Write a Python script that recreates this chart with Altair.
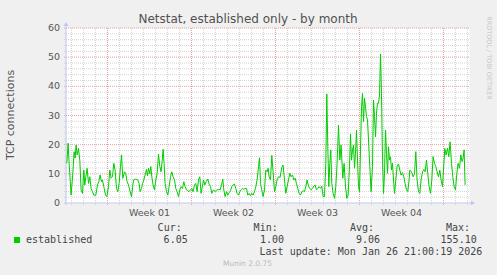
import altair as alt
import pandas as pd

# hours since start of the month window (Dec 24 13:00 -> Jan 26 21:00)
hours = [1.6, 4.2, 6.2, 10.2, 13.6, 16.2, 18.2, 20.2, 22.2, 25, 27.6, 30.2, 33, 35.6, 37.6, 39.6,
         42.2, 45, 47.6, 50.2, 53, 55.6, 59.6, 63, 65.6, 68.2, 71, 73, 75.6, 79, 81.6, 85, 87.6,
         90.2, 93, 95.6, 98.2, 101, 103.6, 106.2, 109, 111, 113.6, 117, 119.6, 122.2, 125, 128.2,
         131, 135, 139.6, 143.6, 146.2, 148.2, 151, 153, 155.6, 158.2, 161, 163, 165, 167.6, 169.6,
         171.6, 174.2, 177, 179.6, 182.2, 185, 187.6, 190.2, 192.2, 194.2, 196.2, 198.2, 201,
         203.6, 206.2, 209, 211.6, 214.2, 217, 219.6, 222.2, 225, 227.6, 230.2, 233, 235.6, 238.2,
         241, 243.6, 246.2, 249, 251.6, 254.2, 257, 259.6, 262.2, 265, 267.6, 270.2, 275, 277.6,
         280.2, 283.6, 286.2, 289, 291.6, 295, 298.2, 301.6, 305, 308.2, 311, 313.6, 315.6, 318.2,
         321, 323.6, 326.2, 329, 331.6, 334.2, 337, 339.6, 342.2, 345, 347.6, 350.2, 353, 355.6,
         358.2, 361, 363.6, 366.2, 369, 371.6, 374.2, 377, 379.6, 382.2, 385, 387, 389, 391.6,
         394.2, 397, 399.6, 402.2, 404.2, 406.2, 409, 411.6, 414.2, 417, 419.6, 422.2, 425, 428.2,
         431.6, 434.2, 437, 439.6, 442.2, 445, 447.6, 450.2, 453, 455.6, 458.2, 461, 463.6, 466.2,
         469, 471.6, 474.2, 477, 479.6, 482.2, 485, 487.6, 490.2, 493, 495.6, 498.2, 501, 503.6,
         506.2, 509, 511.6, 514.2, 517, 519.6, 521.6, 523.6, 525.6, 527.6, 529.6, 531.6, 534.2,
         537, 539.6, 542.2, 545, 547.6, 550.2, 553.6, 556.2, 559, 561.6, 564.2, 567, 569, 571,
         573, 575, 577, 579, 581, 583, 585, 587, 589, 591, 593, 595, 597, 599, 601, 603, 605,
         607.6, 610.2, 613, 615, 617, 619, 621, 623, 625, 627, 629, 631, 633, 635, 637, 639, 641,
         643, 645, 647, 649, 651, 653, 655, 657, 659.6, 662.2, 665, 667.6, 670.2, 673, 675.6,
         678.2, 681, 683.6, 686.2, 687.6, 691, 694.2, 697, 699.6, 702.2, 705, 707.6, 710.2, 713,
         715.6, 718.2, 721, 723.6, 726.2, 729, 731.6, 734.2, 737, 739.6, 742.2, 745, 747.6, 750.2,
         753, 755, 757.6, 760.2, 763, 765.6, 768.2, 771, 773.6, 776.2, 779, 781.6, 784.2, 787,
         789.6, 792.2, 794.2, 796.2, 798.2]
conns = [13.6, 20.5, 13.7, 2.7, 10, 17.6, 15.4, 19.9, 16.5, 18.7, 14.7, 4.5, 3.3, 11.3, 6.2, 9,
         11.9, 6.7, 9, 5, 3.9, 2.7, 2.7, 6.2, 7.3, 9.6, 7.3, 7.9, 5.6, 2.7, 2.2, 5.6, 11.3,
         8.5, 9, 13.6, 11.3, 5, 3.9, 6.7, 12.5, 16.5, 8.5, 10.7, 10, 7.3, 6.2, 3.9,
         2.2, 7.9, 8.2, 7.9, 6.7, 3.9, 5, 6.7, 7.9, 9.6, 11.5, 9.3, 11.9, 10, 12.5,
         9, 6.2, 4.5, 7.9, 10, 16.8, 12.5, 10.7, 14.2, 18.4, 13.6, 6.7, 3.9,
         2.7, 5.6, 9, 10.7, 9, 7.9, 5, 3.9, 2.2, 4.5, 5.6, 5, 7.3, 5.6,
         4.5, 4.2, 3.9, 4.5, 5, 3.9, 6.2, 6.7, 3.9, 7.9, 9, 3.3, 7.9, 6.2,
         7.3, 8.2, 6.5, 5.6, 3.3, 4.5, 3.9, 4.5, 4.7, 4.5, 6.2, 8.2, 4.5, 2.2,
         3.9, 2.7, 3.5, 4.2, 5.6, 6.2, 6.5, 5, 3.3, 2.7, 3.9, 4.5, 5, 4.7,
         5, 5, 2.7, 3.3, 2.5, 3.3, 2.7, 3.9, 5.6, 7.9, 12.5, 15.5, 6.7, 4.5,
         2.2, 4.5, 11.3, 10.7, 11.9, 9, 7.9, 16.3, 10.7, 3.9, 5.6, 7.9, 9, 8.8,
         12.2, 13, 7.9, 3.3, 5.6, 7.9, 10.2, 9, 9.6, 7.9, 8.5, 6.7, 5, 3.3,
         2.7, 3.9, 4.2, 3.9, 5.6, 7.9, 5.8, 5, 4.5, 5, 5.8, 6.2, 4.5, 5,
         5.6, 5, 5.8, 2.2, 2.2, 13.6, 37.4, 19.3, 5.6, 13.6, 18.2, 6.7, 3.3,
         1.6, 5.6, 13.6, 26.7, 14.7, 19.9, 8.5, 13.6, 5.6, 1.6, 2.7, 12.5, 23.7, 14.7,
         18.2, 19.9, 11.9, 17.1, 25, 14.7, 5.6, 3.9, 18.2, 33, 37.6, 27.9, 35.9, 33, 29.6, 28.5, 21.6,
         12.5, 3.9, 12.5, 35.3, 29.6, 22.7, 30.8, 34.2, 34.2, 37, 51.1, 37.6, 14.7, 3.3, 10.2, 25, 17,
         10.2, 19.3, 14.7, 15.8, 11.3, 13.6, 7.9, 3.3, 7.9, 12.5, 13.4, 11.3, 9.6, 10.4, 9,
         6.7, 4.5, 3.9, 7.9, 11.3, 10.7, 9, 10, 17.6, 7.9, 3.9, 3.3, 7.9, 10.7,
         11.5, 10.7, 14.7, 10, 5.6, 3.3, 7.9, 15.9, 13.6, 12.5, 10.7, 9, 11.3, 7.9,
         5.6, 11.3, 18.7, 16.5, 18.7, 15.9, 21, 13.6, 9, 5.6, 4.5, 10, 13.6, 11.9,
         16.5, 14.2, 15.3, 18.2, 6.2]

y_major = [10, 20, 30, 40, 50, 60]
y_minor = [2, 4, 6, 8, 12, 14, 16, 18, 22, 24, 26, 28, 32, 34, 36, 38, 42, 44, 46, 48,
           52, 54, 56, 58]
y_labels = [0, 10, 20, 30, 40, 50, 60]
week_lines = [83, 251, 419, 587, 755]
day_lines = [11, 35, 59, 107, 131, 155, 179, 203, 227, 275, 299, 323, 347, 371, 395, 443,
             467, 491, 515, 539, 563, 611, 635, 659, 683, 707, 731, 779, 803]
week_mids = [167, 335, 503, 671]
week_labels = ["Week 01", "Week 02", "Week 03", "Week 04"]

series_name = "established"
stat_names = ["Cur:", "Min:", "Avg:", "Max:"]
stat_values = ["6.05", "1.00", "9.06", "155.10"]
last_update = "Last update: Mon Jan 26 21:00:19 2026"
title_text = "Netstat, established only - by month"
y_title = "TCP connections"
footer = "Munin 2.0.75"
side_text = "RRDTOOL / TOBI OETIKER"

W, H = 403, 175
GREEN = "#00CC00"
SANS = "DejaVu Sans"
MONO = "DejaVu Sans Mono"
AXIS_COL = "#BFC6F0"

xs = alt.Scale(domain=[0, 806], nice=False, zero=False)
ys = alt.Scale(domain=[0, 60], nice=False, zero=False)
one = pd.DataFrame({"a": [0]})

df = pd.DataFrame({"h": hours, "v": conns})

hmin = alt.Chart(pd.DataFrame({"v": y_minor})).mark_rule(
    color="#D4D4D4", strokeDash=[1, 1], strokeWidth=1).encode(
    y=alt.Y("v:Q", scale=ys, axis=None), x=alt.value(-2), x2=alt.value(W))
hmaj = alt.Chart(pd.DataFrame({"v": y_major})).mark_rule(
    color="#E8A0A0", strokeDash=[1, 1], strokeWidth=1).encode(
    y=alt.Y("v:Q", scale=ys, axis=None), x=alt.value(-2), x2=alt.value(W))
vmin = alt.Chart(pd.DataFrame({"h": day_lines})).mark_rule(
    color="#D4D4D4", strokeDash=[1, 1], strokeWidth=1).encode(
    x=alt.X("h:Q", scale=xs, axis=None), y=alt.value(0), y2=alt.value(H + 2))
vmaj = alt.Chart(pd.DataFrame({"h": week_lines})).mark_rule(
    color="#E8A0A0", strokeDash=[1, 1], strokeWidth=1).encode(
    x=alt.X("h:Q", scale=xs, axis=None), y=alt.value(0), y2=alt.value(H + 2))

yaxis = alt.Chart(one).mark_rule(color=AXIS_COL, strokeWidth=1).encode(
    x=alt.value(0), y=alt.value(-3), y2=alt.value(H + 2))
xaxis = alt.Chart(one).mark_rule(color=AXIS_COL, strokeWidth=1).encode(
    x=alt.value(-2), x2=alt.value(W + 2), y=alt.value(H))
yarrow = alt.Chart(one).mark_point(shape="triangle-up", filled=True, size=22,
                                   color=AXIS_COL, opacity=1).encode(
    x=alt.value(0), y=alt.value(-4))
xarrow = alt.Chart(one).mark_point(shape="triangle-right", filled=True, size=22,
                                   color=AXIS_COL, opacity=1).encode(
    x=alt.value(W + 4), y=alt.value(H))

line = alt.Chart(df).mark_line(color=GREEN, strokeWidth=1).encode(
    x=alt.X("h:Q", scale=xs, axis=None), y=alt.Y("v:Q", scale=ys, axis=None))

ylab = alt.Chart(pd.DataFrame({"v": y_labels})).mark_text(
    align="right", baseline="middle", font=SANS, fontSize=9.5, color="#555555").encode(
    y=alt.Y("v:Q", scale=ys, axis=None), x=alt.value(-6), text="v:Q")
xlab = alt.Chart(pd.DataFrame({"h": week_mids, "t": week_labels})).mark_text(
    align="center", baseline="middle", font=SANS, fontSize=9.5, color="#555555").encode(
    x=alt.X("h:Q", scale=xs, axis=None), y=alt.value(H + 10), text="t:N")


def label(text, x, y, size, color, font=SANS, align="center", angle=0):
    return alt.Chart(one).mark_text(
        text=text, fontSize=size, color=color, font=font, align=align,
        baseline="middle", angle=angle).encode(x=alt.value(x), y=alt.value(y))


texts = [
    label(title_text, 182, -9, 12, "#505050"),
    label(y_title, -55, 87, 11, "#555555", angle=270),
    label(side_text, 423, 30, 6.5, "#C8C8C8", angle=90),
    label(footer, 181.5, 236, 7.5, "#BBBBBB"),
    label(series_name, -40, 211.7, 10, "#444444", font=MONO, align="left"),
    label(last_update, 416.3, 223.7, 10, "#444444", font=MONO, align="right"),
]
stat_name_x = [115.7, 211.7, 308, 404]
stat_val_x = [121.7, 218, 314, 410.7]
for n, v, nx, vx in zip(stat_names, stat_values, stat_name_x, stat_val_x):
    texts.append(label(n, nx, 199.7, 10, "#444444", font=MONO, align="right"))
    texts.append(label(v, vx, 211.7, 10, "#444444", font=MONO, align="right"))

swatch = alt.Chart(one).mark_square(color=GREEN, size=36, opacity=1).encode(
    x=alt.value(-49), y=alt.value(212))

chart = alt.layer(hmin, vmin, hmaj, vmaj, yaxis, xaxis, yarrow, xarrow, line,
                  ylab, xlab, swatch, *texts).properties(
    width=W, height=H,
    autosize=alt.AutoSizeParams(type="none"),
    padding={"left": 66, "top": 28, "right": 28, "bottom": 72},
    background="#F0F0F0",
).configure_view(fill="white", stroke="transparent")

chart.save("out.html", embed_options={"renderer": "svg", "actions": False})
